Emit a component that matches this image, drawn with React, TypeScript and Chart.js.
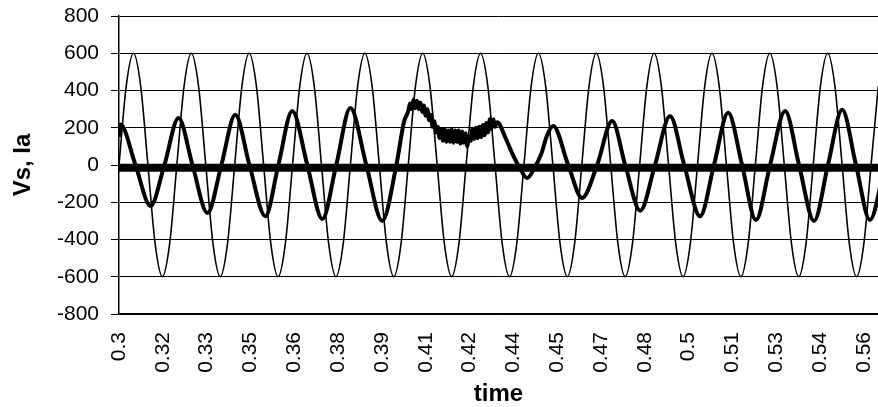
import { useEffect, useRef } from "react";
import { Chart, registerables } from "chart.js";

Chart.register(...registerables);

// x-axis tick positions (time) and their printed labels
const tickTimes = [
  0.3, 0.31515, 0.3303, 0.34545, 0.3606, 0.37575, 0.3909, 0.40605, 0.4212,
  0.43635, 0.4515, 0.46665, 0.4818, 0.49695, 0.5121, 0.52725, 0.5424, 0.55755,
];
const tickLabels = [
  "0.3", "0.32", "0.33", "0.35", "0.36", "0.38", "0.39", "0.41", "0.42",
  "0.44", "0.45", "0.47", "0.48", "0.5", "0.51", "0.53", "0.54", "0.56",
];

// Vs (supply voltage), sampled every 1/8 cycle
const vsTime = [
  0.3, 0.3025, 0.305, 0.3075, 0.31, 0.3125, 0.315, 0.3175,
  0.32, 0.3225, 0.325, 0.3275, 0.33, 0.3325, 0.335, 0.3375,
  0.34, 0.3425, 0.345, 0.3475, 0.35, 0.3525, 0.355, 0.3575,
  0.36, 0.3625, 0.365, 0.3675, 0.37, 0.3725, 0.375, 0.3775,
  0.38, 0.3825, 0.385, 0.3875, 0.39, 0.3925, 0.395, 0.3975,
  0.4, 0.4025, 0.405, 0.4075, 0.41, 0.4125, 0.415, 0.4175,
  0.42, 0.4225, 0.425, 0.4275, 0.43, 0.4325, 0.435, 0.4375,
  0.44, 0.4425, 0.445, 0.4475, 0.45, 0.4525, 0.455, 0.4575,
  0.46, 0.4625, 0.465, 0.4675, 0.47, 0.4725, 0.475, 0.4775,
  0.48, 0.4825, 0.485, 0.4875, 0.49, 0.4925, 0.495, 0.4975,
  0.5, 0.5025, 0.505, 0.5075, 0.51, 0.5125, 0.515, 0.5175,
  0.52, 0.5225, 0.525, 0.5275, 0.53, 0.5325, 0.535, 0.5375,
  0.54, 0.5425, 0.545, 0.5475, 0.55, 0.5525, 0.555, 0.5575,
  0.56, 0.5625,
];
const vsValue = [
  0, 424, 600, 424, 0, -424, -600, -424,
  0, 424, 600, 424, 0, -424, -600, -424,
  0, 424, 600, 424, 0, -424, -600, -424,
  0, 424, 600, 424, 0, -424, -600, -424,
  0, 424, 600, 424, 0, -424, -600, -424,
  0, 424, 600, 424, 0, -424, -600, -424,
  0, 424, 600, 424, 0, -424, -600, -424,
  0, 424, 600, 424, 0, -424, -600, -424,
  0, 424, 600, 424, 0, -424, -600, -424,
  0, 424, 600, 424, 0, -424, -600, -424,
  0, 424, 600, 424, 0, -424, -600, -424,
  0, 424, 600, 424, 0, -424, -600, -424,
  0, 424, 600, 424, 0, -424, -600, -424,
  0, 424,
];

// Ia (line current) (noisy stretch around 0.40-0.43)
const iaTime = [
  0.3, 0.3005, 0.3057, 0.3109, 0.3157, 0.3206, 0.3254, 0.3306, 0.3354, 0.3402,
  0.3451, 0.3506, 0.3551, 0.3599, 0.3651, 0.3703, 0.3751, 0.38, 0.3855, 0.391,
  0.3959, 0.3985, 0.4, 0.4006, 0.4012, 0.4018, 0.4024, 0.403, 0.4036, 0.4042,
  0.4048, 0.4054, 0.406, 0.4066, 0.4072, 0.4078, 0.4084, 0.409, 0.4096, 0.4102,
  0.4108, 0.4114, 0.412, 0.4126, 0.4132, 0.4138, 0.4144, 0.415, 0.4156, 0.4162,
  0.4168, 0.4174, 0.418, 0.4186, 0.4192, 0.4198, 0.4204, 0.421, 0.4216, 0.4222,
  0.4228, 0.4234, 0.424, 0.4246, 0.4252, 0.4258, 0.4264, 0.427, 0.4276, 0.4282,
  0.4288, 0.4294, 0.43, 0.4308, 0.4335, 0.4363, 0.4387, 0.4411, 0.4435, 0.446,
  0.448, 0.4501, 0.4553, 0.4601, 0.4653, 0.4705, 0.475, 0.4802, 0.4853, 0.4905,
  0.4954, 0.5009, 0.5057, 0.5106, 0.5154, 0.5202, 0.5251, 0.5303, 0.5351, 0.5403,
  0.5451, 0.55, 0.5548, 0.5596, 0.5648,
];
const iaValue = [
  150, 217, 0, -220, 0, 253, 0, -258, 0, 270,
  0, -275, 0, 290, 0, -290, 0, 306, 0, -300,
  0, 230, 290, 330, 300, 350, 305, 345, 300, 335,
  285, 320, 265, 300, 240, 270, 205, 235, 175, 205,
  145, 195, 130, 190, 125, 185, 125, 190, 120, 185,
  125, 185, 115, 180, 120, 170, 100, 150, 130, 195,
  140, 200, 145, 205, 150, 215, 160, 225, 175, 245,
  195, 245, 205, 230, 150, 50, -20, -70, -20, 60,
  160, 210, 0, -177, 0, 236, 0, -245, 0, 263,
  0, -275, 0, 280, 0, -295, 0, 290, 0, -300,
  0, 296, 0, -295, 0,
];

// thick near-zero trace
const bandTime = [0.3, 0.5625];
const bandValue = [-15, -15];

const pts = (xs: number[], ys: number[]) => xs.map((x, i) => ({ x, y: ys[i] }));

export default function App() {
  const ref = useRef<HTMLCanvasElement>(null);
  useEffect(() => {
    document.body.style.margin = "0";
    const tickFont = { family: "'Liberation Sans', Arial, sans-serif", size: 21 };
    const titleFont = { family: "'Liberation Sans', Arial, sans-serif", size: 24, weight: "bold" as const };
    const chart = new Chart(ref.current!, {
      type: "line",
      data: {
        datasets: [
          {
            label: "I0",
            data: pts(bandTime, bandValue),
            borderColor: "#000",
            borderWidth: 8,
            pointRadius: 0,
            borderCapStyle: "butt",
          },
          {
            label: "Ia",
            data: pts(iaTime, iaValue),
            borderColor: "#000",
            borderWidth: 4,
            pointRadius: 0,
            cubicInterpolationMode: "monotone",
          },
          {
            label: "Vs",
            data: pts(vsTime, vsValue),
            borderColor: "#000",
            borderWidth: 1.6,
            pointRadius: 0,
            cubicInterpolationMode: "monotone",
          },
        ],
      },
      options: {
        animation: false,
        responsive: false,
        events: [],
        layout: { padding: { top: 16, right: 0, left: 0, bottom: 0 } },
        plugins: { legend: { display: false }, tooltip: { enabled: false } },
        scales: {
          x: {
            type: "linear",
            min: 0.3,
            max: 0.5624,
            afterBuildTicks: (s: any) => {
              s.ticks = tickTimes.map((v) => ({ value: v }));
            },
            afterFit: (s: any) => {
              s.height = 93;
              s.paddingLeft = 0;
              s.paddingRight = 0;
            },
            ticks: {
              autoSkip: false,
              maxRotation: 90,
              minRotation: 90,
              padding: 18,
              color: "#000",
              font: tickFont,
              callback: (_v: any, i: number) => tickLabels[i],
            },
            grid: { display: true, drawOnChartArea: false, drawTicks: false },
            border: { display: true, color: "#000", width: 1.5 },
            title: {
              display: true,
              text: "time",
              color: "#000",
              font: titleFont,
              padding: { top: 0, bottom: -2 },
            },
          },
          y: {
            min: -800,
            max: 800,
            afterFit: (s: any) => {
              s.width = 119;
              s.paddingTop = 0;
              s.paddingBottom = 0;
            },
            ticks: { stepSize: 200, color: "#000", font: tickFont, padding: 12 },
            grid: { color: "#000", lineWidth: 1, tickLength: 8 },
            border: { display: true, color: "#000", width: 1.5 },
            title: {
              display: true,
              text: "Vs, Ia",
              color: "#000",
              font: titleFont,
              padding: { top: 9, bottom: 0 },
            },
          },
        },
      },
    });
    return () => chart.destroy();
  }, []);
  return (
    <div style={{ width: 878, height: 407 }}>
      <canvas ref={ref} width={878} height={407} style={{ display: "block" }} />
    </div>
  );
}
